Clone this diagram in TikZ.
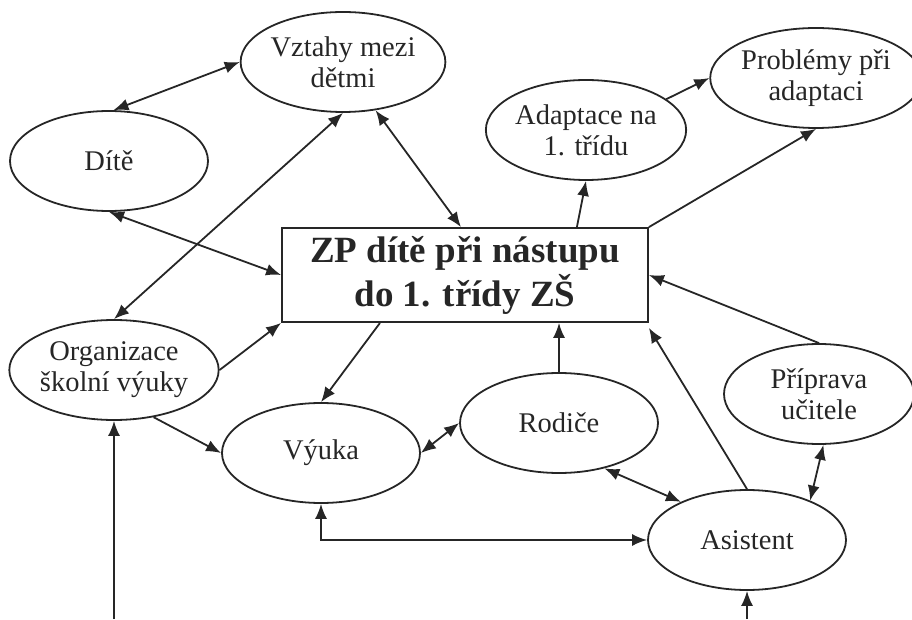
\documentclass[tikz,border=0pt]{standalone}
\usepackage{fontspec}
\setmainfont{Liberation Serif}
\usetikzlibrary{shapes.geometric,arrows.meta}

\begin{document}
\begin{tikzpicture}[x=1pt,y=1pt,color=black!85,
    topic/.style={draw,ellipse,line width=1.8pt,minimum width=198pt,minimum height=100pt,
        inner sep=0pt,align=center,font=\fontsize{28.5}{31}\selectfont},
    conn/.style={line width=1.8pt,-{Latex[length=15pt,width=12pt]}},
    both/.style={line width=1.8pt,{Latex[length=15pt,width=12pt]}-{Latex[length=15pt,width=12pt]}}]
\useasboundingbox (0,0) rectangle (912,619);

% Central box
\node[draw,line width=1.8pt,minimum width=366pt,minimum height=94pt,inner sep=0pt,align=center,
    font=\fontsize{37}{44}\selectfont\bfseries] (zp) at (465,344) {ZP dítě při nástupu\\do 1. třídy ZŠ};

% Ellipses
\node[topic] (vztahy) at (343,557) {Vztahy mezi\\dětmi};
\node[topic] (dite) at (109,458) {Dítě};
\node[topic] (adapt) at (586,489) {Adaptace na\\1. třídu};
\node[topic,minimum width=190pt] (probl) at (816,541) {Problémy při\\adaptaci};
\node[topic] (org) at (114,249) {Organizace\\školní výuky};
\node[topic] (vyuka) at (321,166) {Výuka};
\node[topic] (rodice) at (559,196) {Rodiče};
\node[topic,minimum width=190pt] (pripr) at (819,225) {Příprava\\učitele};
\node[topic] (asist) at (747,79) {Asistent};

% Incoming from below
\coordinate (inorg) at (114,0);
\coordinate (inasist) at (747,0);

% Connectors
\draw[both] (dite.85) -- (vztahy.west);
\draw[both] (dite.south) -- (zp.west);
\draw[both] (vztahy.south) -- (org.north);
\draw[both] (vztahy.-56) -- ([xshift=-4pt]zp.north);
\draw[conn] ([xshift=-72pt]zp.north east) -- (adapt.south);
\draw[conn] (adapt.21) -- (probl.west);
\draw[conn] (zp.north east) -- (probl.south);
\draw[conn] (pripr.north) -- (zp.east);
\draw[conn] (org.east) -- (zp.south west);
\draw[conn] ([xshift=-85pt]zp.south) -- (vyuka.north);
\draw[conn] (org.-50) -- (vyuka.west);
\draw[both] (vyuka.east) -- (rodice.west);
\draw[conn] (rodice.north) -- (rodice.north |- zp.south);
\draw[conn] (asist.north) -- ([yshift=-5pt]zp.south east);
\draw[both] (rodice.-45) -- (asist.150);
\draw[both] (pripr.-85) -- (asist.32);
\draw[both] (vyuka.south) |- (asist.west);
\draw[conn] (inorg) -- (org.south);
\draw[conn] (inasist) -- (asist.south);

\end{tikzpicture}
\end{document}
